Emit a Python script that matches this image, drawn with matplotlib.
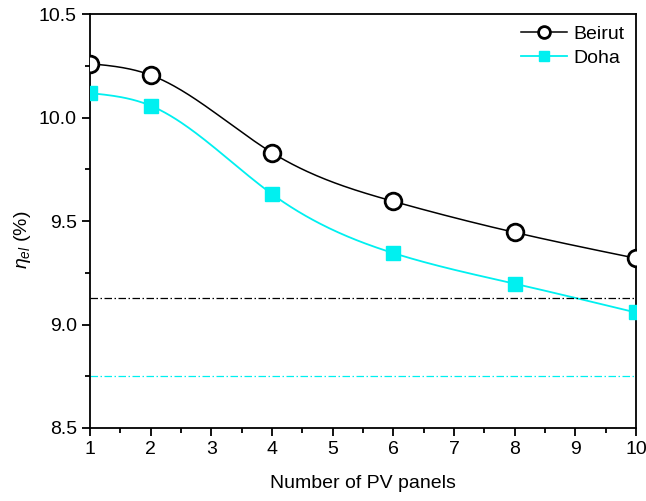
import numpy as np
import matplotlib
matplotlib.use('Agg')
import matplotlib.pyplot as plt
from matplotlib.ticker import MultipleLocator
from matplotlib.lines import Line2D

# 데이터
panels = [1, 2, 4, 6, 8, 10]
beirut = [10.26, 10.205, 9.83, 9.595, 9.445, 9.32]
doha = [10.118, 10.057, 9.63, 9.345, 9.197, 9.058]
beirut_ref = 9.13
doha_ref = 8.75

CYAN = '#00f0f0'

# 자연 3차 스플라인 (Origin 스타일 매끄러운 선)
def natural_spline(x, y, n=300):
    x = np.asarray(x, float)
    y = np.asarray(y, float)
    m = len(x)
    h = np.diff(x)
    A = np.zeros((m, m))
    b = np.zeros(m)
    A[0, 0] = 1
    A[-1, -1] = 1
    for i in range(1, m - 1):
        A[i, i - 1] = h[i - 1]
        A[i, i] = 2 * (h[i - 1] + h[i])
        A[i, i + 1] = h[i]
        b[i] = 6 * ((y[i + 1] - y[i]) / h[i] - (y[i] - y[i - 1]) / h[i - 1])
    M = np.linalg.solve(A, b)
    xs = np.linspace(x[0], x[-1], n)
    idx = np.clip(np.searchsorted(x, xs) - 1, 0, m - 2)
    x0, x1 = x[idx], x[idx + 1]
    hh = x1 - x0
    t0 = x1 - xs
    t1 = xs - x0
    ys = (M[idx] * t0 ** 3 + M[idx + 1] * t1 ** 3) / (6 * hh) \
        + (y[idx] / hh - M[idx] * hh / 6) * t0 \
        + (y[idx + 1] / hh - M[idx + 1] * hh / 6) * t1
    return xs, ys

plt.rcParams['font.family'] = ['Liberation Sans', 'DejaVu Sans']
plt.rcParams['mathtext.fontset'] = 'custom'
plt.rcParams['mathtext.it'] = 'Liberation Sans:italic'
plt.rcParams['mathtext.rm'] = 'Liberation Sans'

fig = plt.figure(figsize=(6.46, 5.01), dpi=100)
ax = fig.add_axes([90 / 646, 1 - 428 / 501, 546 / 646, 414 / 501])

xs, ys = natural_spline(panels, beirut)
ax.plot(xs, ys, color='black', lw=1.1)
xs, ys = natural_spline(panels, doha)
ax.plot(xs, ys, color=CYAN, lw=1.3)

ax.plot(panels, beirut, 'o', ms=12, mfc='white', mec='black', mew=2.0, zorder=4)
ax.plot(panels, doha, 's', ms=10, mfc=CYAN, mec=CYAN, zorder=4)

ax.axhline(beirut_ref, color='black', lw=0.9, ls=(0, (6, 2, 1.2, 2)))
ax.axhline(doha_ref, color=CYAN, lw=0.9, ls=(0, (6, 2, 1.2, 2)))

ax.set_xlim(1, 10)
ax.set_ylim(8.5, 10.5)
ax.xaxis.set_major_locator(MultipleLocator(1))
ax.xaxis.set_minor_locator(MultipleLocator(0.5))
ax.yaxis.set_major_locator(MultipleLocator(0.5))
ax.yaxis.set_minor_locator(MultipleLocator(0.25))
ax.yaxis.set_major_formatter(matplotlib.ticker.FormatStrFormatter('%.1f'))
ax.tick_params(which='both', direction='out', width=1.3, labelsize=14)
ax.tick_params(which='major', length=6)
ax.tick_params(which='minor', length=3.5)
for s in ax.spines.values():
    s.set_linewidth(1.3)

ax.set_xlabel('Number of PV panels', fontsize=14, labelpad=12)
ax.set_ylabel(r'$\eta_{el}$ (%)', fontsize=14)
ax.yaxis.set_label_coords(-0.105, 0.455)

handles = [
    Line2D([], [], color='black', lw=1.1, marker='o', ms=8.5, mfc='white', mec='black', mew=2.0),
    Line2D([], [], color=CYAN, lw=1.3, marker='s', ms=7.5, mfc=CYAN, mec=CYAN),
]
ax.legend(handles, ['Beirut', 'Doha'], loc='upper right', frameon=False, fontsize=14,
          handlelength=2.4, handletextpad=0.3, labelspacing=0.3,
          borderaxespad=0.4, borderpad=0.2)

fig.savefig('out.png', dpi=100)
